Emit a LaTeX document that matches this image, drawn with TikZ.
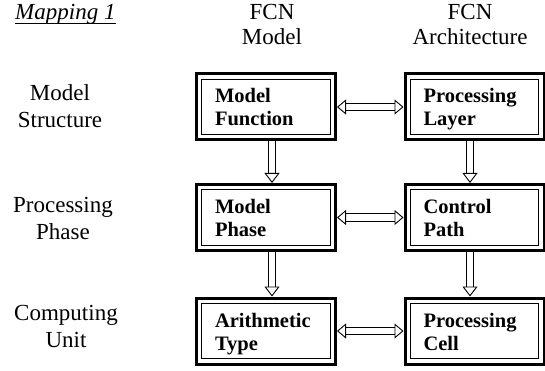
\documentclass[tikz,border=0pt]{standalone}
\usepackage{fontspec}
\setmainfont{Liberation Serif}
\usetikzlibrary{arrows.meta}
\begin{document}
\begin{tikzpicture}[x=1pt,y=-1pt,
  blk/.style={draw,line width=3pt,minimum width=139pt,minimum height=66pt,inner xsep=18pt,text width=102pt,align=left,
    font=\fontsize{20.5}{23}\selectfont\bfseries,
    execute at begin node={\rule{0pt}{20pt}},execute at end node={\rule[-5pt]{0pt}{5pt}},
    path picture={\draw[line width=1.2pt] ([shift={(5.2pt,-5.2pt)}]path picture bounding box.north west) rectangle ([shift={(-5.2pt,5.2pt)}]path picture bounding box.south east);}},
  lbl/.style={align=center,inner sep=0pt,font=\fontsize{23}{27}\selectfont},
  hollow/.style={double,double distance=6.5pt,line width=0.9pt,
    arrows={Triangle[open,length=9pt,width=15pt,line width=0.9pt]-Triangle[open,length=9pt,width=15pt,line width=0.9pt]}},
  hollowdown/.style={double,double distance=6pt,line width=0.9pt,arrows={-Triangle[open,length=10pt,width=15pt,line width=0.9pt]}}]
  \useasboundingbox (0,0) rectangle (545,371);
  \node[anchor=base west,inner sep=0pt,font=\fontsize{23}{27}\selectfont\itshape] (map) at (15,20) {Mapping 1};
  \draw[line width=0.8pt] ([yshift=-3.5pt]map.base west) -- ([yshift=-3.5pt]map.base east);
  \node[lbl,font=\fontsize{23}{25}\selectfont] (hmod) at (272,25) {FCN\\Model};
  \node[lbl,font=\fontsize{23}{25}\selectfont] (harc) at (470,25) {FCN\\Architecture};
  \node[lbl] (rstr) at (60,106) {Model\\Structure};
  \node[lbl] (rpha) at (63,218) {Processing\\Phase};
  \node[lbl] (runi) at (66,326) {Computing\\Unit};
  \node[blk] (mf) at (266,107) {Model\\Function};   \node[blk] (pl) at (474.5,107) {Processing\\Layer};
  \node[blk] (mp) at (266,217.5) {Model\\Phase};    \node[blk] (cp) at (474.5,217.5) {Control\\Path};
  \node[blk] (ar) at (266,331) {Arithmetic\\Type}; \node[blk] (pc) at (474.5,331) {Processing\\Cell};
  \draw[hollow] (mf.east)--(pl.west); \draw[hollow] (mp.east)--(cp.west); \draw[hollow] (ar.east)--(pc.west);
  \draw[hollowdown] (mf.south -| hmod)--(mp.north -| hmod); \draw[hollowdown] (mp.south -| hmod)--(ar.north -| hmod);
  \draw[hollowdown] (pl.south -| harc)--(cp.north -| harc); \draw[hollowdown] (cp.south -| harc)--(pc.north -| harc);
\end{tikzpicture}
\end{document}
